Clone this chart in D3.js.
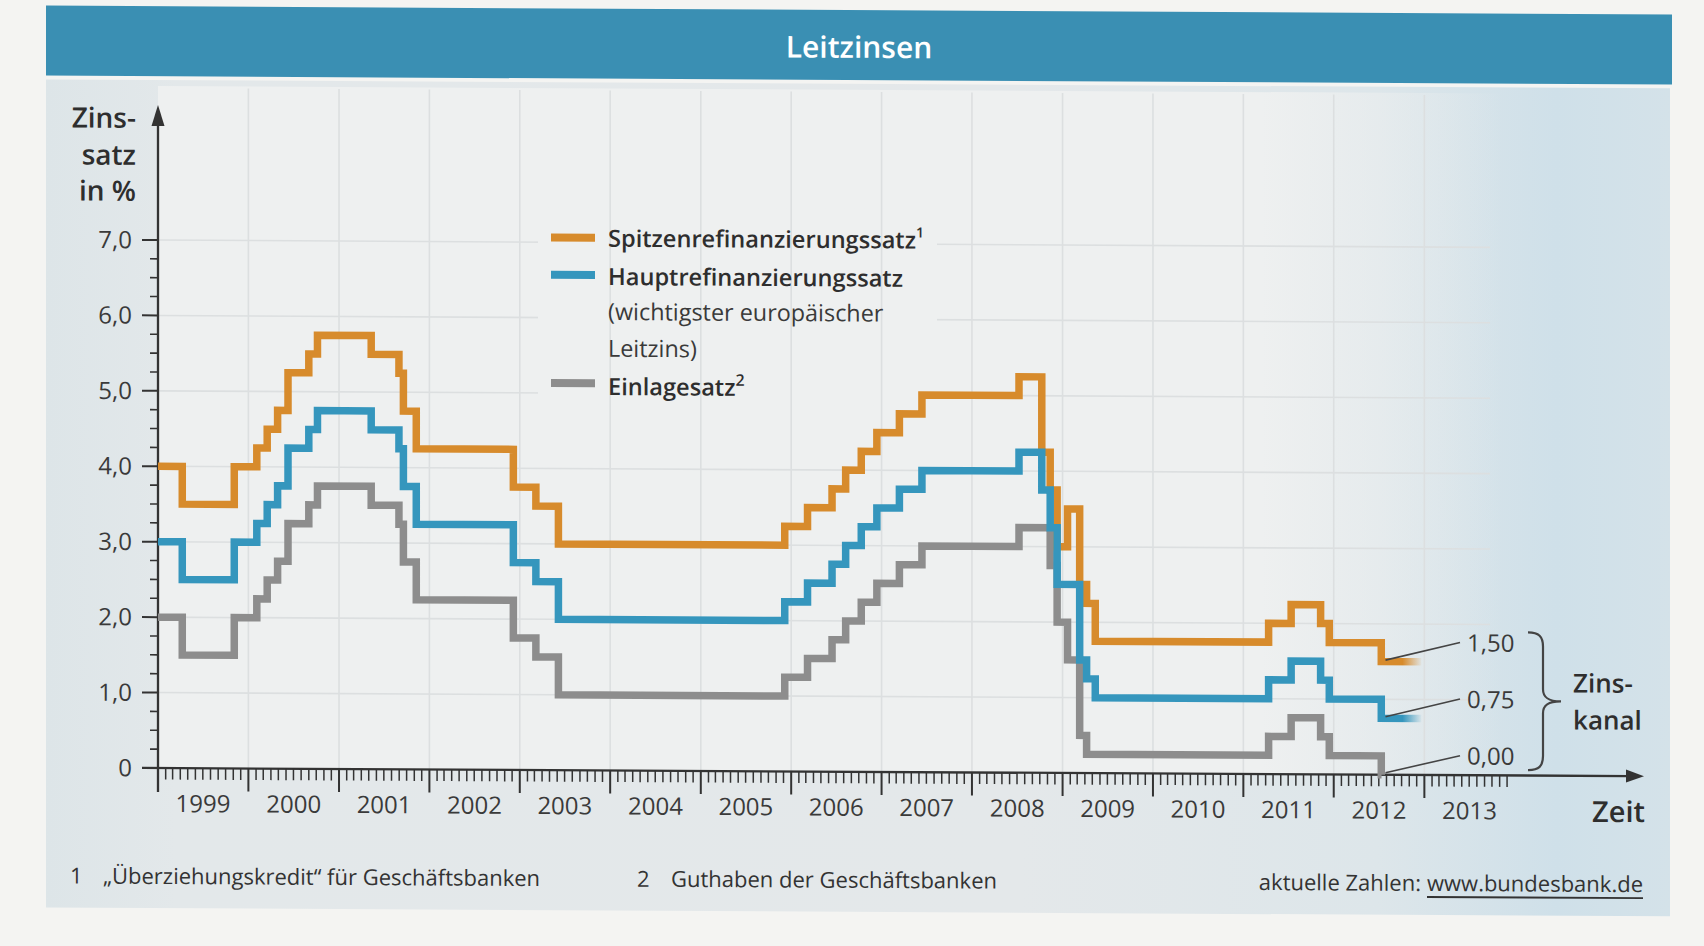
<!DOCTYPE html>
<html><head><meta charset="utf-8">
<script src="https://cdn.jsdelivr.net/npm/d3@7"></script>
<style>
html,body{margin:0;padding:0;background:#f4f4f2;}
svg{display:block;font-family:"Open Sans","Noto Sans",sans-serif;}
</style></head><body>
<svg id="chart" width="1704" height="946"></svg>
<script>
// ---------- data ----------
const years = [1999,2000,2001,2002,2003,2004,2005,2006,2007,2008,2009,2010,2011,2012,2013];
const yTickValues = [0,1,2,3,4,5,6,7];
const yTickLabels = ["0","1,0","2,0","3,0","4,0","5,0","6,0","7,0"];

const spitzen = [
 ["1999-01-01",4.00],["1999-04-09",3.50],["1999-11-05",4.00],["2000-02-04",4.25],
 ["2000-03-17",4.50],["2000-04-28",4.75],["2000-06-09",5.25],["2000-09-01",5.50],
 ["2000-10-06",5.75],["2001-05-11",5.50],["2001-08-31",5.25],["2001-09-18",4.75],
 ["2001-11-09",4.25],["2002-12-06",3.75],["2003-03-07",3.50],["2003-06-06",3.00],
 ["2005-12-06",3.25],["2006-03-08",3.50],["2006-06-15",3.75],["2006-08-09",4.00],
 ["2006-10-11",4.25],["2006-12-13",4.50],["2007-03-14",4.75],["2007-06-13",5.00],
 ["2008-07-09",5.25],["2008-10-09",4.25],["2008-11-12",3.75],["2008-12-10",3.00],
 ["2009-01-21",3.50],["2009-03-11",2.50],["2009-04-08",2.25],["2009-05-13",1.75],
 ["2011-04-13",2.00],["2011-07-13",2.25],["2011-11-09",2.00],["2011-12-14",1.75],
 ["2012-07-11",1.50],["2012-12-20",1.50]
];
const haupt = [
 ["1999-01-01",3.00],["1999-04-09",2.50],["1999-11-05",3.00],["2000-02-04",3.25],
 ["2000-03-17",3.50],["2000-04-28",3.75],["2000-06-09",4.25],["2000-09-01",4.50],
 ["2000-10-06",4.75],["2001-05-11",4.50],["2001-08-31",4.25],["2001-09-18",3.75],
 ["2001-11-09",3.25],["2002-12-06",2.75],["2003-03-07",2.50],["2003-06-06",2.00],
 ["2005-12-06",2.25],["2006-03-08",2.50],["2006-06-15",2.75],["2006-08-09",3.00],
 ["2006-10-11",3.25],["2006-12-13",3.50],["2007-03-14",3.75],["2007-06-13",4.00],
 ["2008-07-09",4.25],["2008-10-09",3.75],["2008-11-12",3.25],["2008-12-10",2.50],
 ["2009-03-11",1.50],["2009-04-08",1.25],["2009-05-13",1.00],
 ["2011-04-13",1.25],["2011-07-13",1.50],["2011-11-09",1.25],["2011-12-14",1.00],
 ["2012-07-11",0.75],["2012-12-20",0.75]
];
const einlage = [
 ["1999-01-01",2.00],["1999-04-09",1.50],["1999-11-05",2.00],["2000-02-04",2.25],
 ["2000-03-17",2.50],["2000-04-28",2.75],["2000-06-09",3.25],["2000-09-01",3.50],
 ["2000-10-06",3.75],["2001-05-11",3.50],["2001-08-31",3.25],["2001-09-18",2.75],
 ["2001-11-09",2.25],["2002-12-06",1.75],["2003-03-07",1.50],["2003-06-06",1.00],
 ["2005-12-06",1.25],["2006-03-08",1.50],["2006-06-15",1.75],["2006-08-09",2.00],
 ["2006-10-11",2.25],["2006-12-13",2.50],["2007-03-14",2.75],["2007-06-13",3.00],
 ["2008-07-09",3.25],["2008-11-12",2.75],["2008-12-10",2.00],["2009-01-21",1.50],
 ["2009-03-11",0.50],["2009-04-08",0.25],
 ["2011-04-13",0.50],["2011-07-13",0.75],["2011-11-09",0.50],["2011-12-14",0.25],
 ["2012-07-11",0.00],["2012-07-12",0.00]
];
const endValues = [1.50, 0.75, 0.00];
const endLabels = ["1,50", "0,75", "0,00"];
const legendLabels = ["Spitzenrefinanzierungssatz", "Hauptrefinanzierungssatz", "Einlagesatz"];

// ---------- setup ----------
const parse = d3.timeParse("%Y-%m-%d");
const svg = d3.select("#chart");
const W = 1704, H = 946;
const colOrange = "#d78b2c", colBlue = "#3596bd", colGray = "#8d8d8d";
const ink = "#2e2e2e";

const x = d3.scaleTime().domain([parse("1999-01-01"), parse("2014-01-01")]).range([158, 158 + 15 * 90.45]);
const y = d3.scaleLinear().domain([0, 7]).range([768, 240]);

const defs = svg.append("defs");
const pg = defs.append("linearGradient").attr("id", "panelGrad").attr("x1", 0).attr("x2", 1).attr("y1", 0).attr("y2", 0);
[[0, "#dde5e8"], [0.08, "#e3e8ea"], [0.6, "#e4e8ea"], [0.82, "#dde6ea"], [0.93, "#cfe0e9"], [1, "#d4e2e9"]]
  .forEach(([o, c]) => pg.append("stop").attr("offset", o).attr("stop-color", c));
const plg = defs.append("linearGradient").attr("id", "plotGrad").attr("x1", 0).attr("x2", 1).attr("y1", 0).attr("y2", 0);
[[0, "#eef0f0", 1], [0.82, "#eef0f0", 1], [1, "#eef0f0", 0]]
  .forEach(([o, c, op]) => plg.append("stop").attr("offset", o).attr("stop-color", c).attr("stop-opacity", op));

function fadeGrad(id, color) {
  const g = defs.append("linearGradient").attr("id", id).attr("gradientUnits", "userSpaceOnUse")
    .attr("x1", x(parse("2012-10-05"))).attr("x2", x(parse("2012-12-20"))).attr("y1", 0).attr("y2", 0);
  g.append("stop").attr("offset", 0).attr("stop-color", color).attr("stop-opacity", 1);
  g.append("stop").attr("offset", 1).attr("stop-color", color).attr("stop-opacity", 0.05);
}
fadeGrad("fadeOrange", colOrange);
fadeGrad("fadeBlue", colBlue);

svg.append("rect").attr("width", W).attr("height", H).attr("fill", "#f4f4f2");

// slight scan skew of the original page
const root = svg.append("g").attr("transform", "matrix(1,0.0055,0,1,0,-0.869)");

// panel + title bar
root.append("rect").attr("x", 46).attr("y", 80).attr("width", 1624).attr("height", 828).attr("fill", "url(#panelGrad)");
root.append("rect").attr("x", 46).attr("y", 6.2).attr("width", 1626).attr("height", 70).attr("fill", "#3a8fb3");
root.append("text").attr("x", 859).attr("y", 54).attr("text-anchor", "middle")
  .attr("fill", "#ffffff").attr("font-size", 30).attr("font-weight", 600).text("Leitzinsen");

// plot area
root.append("rect").attr("x", 158).attr("y", 86).attr("width", 1345).attr("height", 682).attr("fill", "url(#plotGrad)");

// horizontal grid
root.append("g").selectAll("line").data(yTickValues.filter(v => v > 0)).join("line")
  .attr("x1", 158).attr("x2", 1490).attr("y1", d => y(d)).attr("y2", d => y(d))
  .attr("stroke", "#dcdfe0").attr("stroke-width", 1.6);

// legend box (covers horizontal grid)
root.append("rect").attr("x", 538).attr("y", 205).attr("width", 399).attr("height", 197).attr("fill", "#eef0f0");

// vertical grid
root.append("g").selectAll("line").data(years.slice(1)).join("line")
  .attr("x1", d => x(new Date(d, 0, 1))).attr("x2", d => x(new Date(d, 0, 1)))
  .attr("y1", 88).attr("y2", 768)
  .attr("stroke", "#dcdfe0").attr("stroke-width", 1.6);

// ---------- axes ----------
const axisG = root.append("g").attr("stroke", "#333").attr("fill", "none");
// y axis
axisG.append("line").attr("x1", 158).attr("x2", 158).attr("y1", 792).attr("y2", 122).attr("stroke-width", 2.3);
axisG.append("path").attr("d", "M158,105 L151.5,126 L164.5,126 Z").attr("fill", "#333").attr("stroke", "none");
// y ticks
axisG.selectAll("line.ymaj").data(yTickValues).join("line").attr("class", "ymaj")
  .attr("x1", 142).attr("x2", 158).attr("y1", d => y(d)).attr("y2", d => y(d)).attr("stroke-width", 2);
const minorY = d3.range(0.25, 7, 0.25).filter(v => Math.abs(v - Math.round(v)) > 0.01);
axisG.selectAll("line.ymin").data(minorY).join("line").attr("class", "ymin")
  .attr("x1", 150).attr("x2", 158).attr("y1", d => y(d)).attr("y2", d => y(d)).attr("stroke-width", 1.6);
// x axis
axisG.append("line").attr("x1", 142).attr("x2", 1630).attr("y1", 768).attr("y2", 768).attr("stroke-width", 2.3);
axisG.append("path").attr("d", "M1644,768 L1626,761.5 L1626,774.5 Z").attr("fill", "#333").attr("stroke", "none");
axisG.selectAll("line.xmaj").data(years).join("line").attr("class", "xmaj")
  .attr("x1", d => x(new Date(d, 0, 1))).attr("x2", d => x(new Date(d, 0, 1)))
  .attr("y1", 768).attr("y2", 791).attr("stroke-width", 2);
const months = [];
years.forEach(yr => { for (let m = 1; m < 12; m++) months.push(new Date(yr, m, 1)); });
axisG.selectAll("line.xmin").data(months).join("line").attr("class", "xmin")
  .attr("x1", d => x(d)).attr("x2", d => x(d)).attr("y1", 768).attr("y2", 779.5).attr("stroke-width", 1.5);

// tick labels
root.append("g").selectAll("text").data(yTickValues).join("text")
  .attr("x", 132).attr("y", d => y(d)).attr("dy", "0.35em").attr("text-anchor", "end")
  .attr("font-size", 24).attr("fill", "#3a3a3a").text((d, i) => yTickLabels[i]);
root.append("g").selectAll("text").data(years).join("text")
  .attr("x", d => x(new Date(d, 6, 2))).attr("y", 812).attr("text-anchor", "middle")
  .attr("font-size", 24).attr("fill", "#3a3a3a").text(d => d);

// axis titles
const yl = root.append("text").attr("text-anchor", "end").attr("font-size", 28).attr("font-weight", 600).attr("fill", ink);
[["Zins-", 128], ["satz", 165], ["in %", 201]].forEach(([t, yy]) => yl.append("tspan").attr("x", 136).attr("y", yy).text(t));
root.append("text").attr("x", 1645).attr("y", 814).attr("text-anchor", "end")
  .attr("font-size", 29).attr("font-weight", 600).attr("fill", ink).text("Zeit");

// ---------- series ----------
const line = d3.line().curve(d3.curveStepAfter).x(d => x(parse(d[0]))).y(d => y(d[1]));
const lines = root.append("g").attr("fill", "none").attr("stroke-width", 7.5).attr("stroke-linejoin", "miter").attr("stroke-linecap", "butt");
lines.append("path").attr("d", line(einlage)).attr("stroke", colGray);
lines.append("path").attr("d", line(spitzen)).attr("stroke", "url(#fadeOrange)");
lines.append("path").attr("d", line(haupt)).attr("stroke", "url(#fadeBlue)");

// ---------- end annotations (Zinskanal) ----------
const ann = root.append("g");
endValues.forEach((v, i) => {
  const sx = x(parse("2012-07-28")), sy = y(v) - (i === 2 ? 2 : 1.5);
  ann.append("line").attr("x1", sx).attr("y1", sy).attr("x2", 1460).attr("y2", y(v) - 19.5)
    .attr("stroke", "#444").attr("stroke-width", 1.6);
  ann.append("text").attr("x", 1467).attr("y", y(v) - 19).attr("dy", "0.35em")
    .attr("font-size", 24).attr("fill", "#3a3a3a").text(endLabels[i]);
});
const bTop = y(endValues[0]) - 30, bBot = y(endValues[2]) - 5.5, bMid = (bTop + bBot) / 2;
ann.append("path")
  .attr("d", `M1528,${bTop} C1539,${bTop} 1543,${bTop + 4} 1543,${bTop + 14} L1543,${bMid - 12} C1543,${bMid - 4} 1548,${bMid} 1561,${bMid} C1548,${bMid} 1543,${bMid + 4} 1543,${bMid + 12} L1543,${bBot - 14} C1543,${bBot - 4} 1539,${bBot} 1528,${bBot}`)
  .attr("fill", "none").attr("stroke", "#444").attr("stroke-width", 2.2);
const zk = ann.append("text").attr("font-size", 26).attr("font-weight", 600).attr("fill", ink);
zk.append("tspan").attr("x", 1573).attr("y", bMid - 9).text("Zins-");
zk.append("tspan").attr("x", 1573).attr("y", bMid + 28).text("kanal");

// ---------- legend ----------
const leg = root.append("g");
const legColors = [colOrange, colBlue, colGray];
const legY = [235.3, 272.6, 380.9];
legY.forEach((yy, i) => {
  leg.append("line").attr("x1", 551).attr("x2", 595).attr("y1", yy).attr("y2", yy)
    .attr("stroke", legColors[i]).attr("stroke-width", 8);
});
const t1 = leg.append("text").attr("x", 608).attr("y", 244.3).attr("font-size", 23.6).attr("font-weight", 600).attr("fill", ink);
t1.append("tspan").text(legendLabels[0]);
t1.append("tspan").attr("dy", -11).attr("font-size", 14).text("1");
leg.append("text").attr("x", 608).attr("y", 282.6).attr("font-size", 23.6).attr("font-weight", 600).attr("fill", ink).text(legendLabels[1]);
leg.append("text").attr("x", 608).attr("y", 317.6).attr("font-size", 23.4).attr("fill", "#3a3a3a").text("(wichtigster europäischer");
leg.append("text").attr("x", 608).attr("y", 354.3).attr("font-size", 23.4).attr("fill", "#3a3a3a").text("Leitzins)");
const t3 = leg.append("text").attr("x", 608).attr("y", 392.6).attr("font-size", 23.6).attr("font-weight", 600).attr("fill", ink);
t3.append("tspan").text(legendLabels[2]);
t3.append("tspan").attr("dy", -10).attr("font-size", 16).text("2");

// ---------- footer ----------
const foot = root.append("g").attr("font-size", 22).attr("fill", "#333");
foot.append("text").attr("x", 70).attr("y", 884).text("1");
foot.append("text").attr("x", 103).attr("y", 884).text("\u201EÜberziehungskredit\u201C für Geschäftsbanken");
foot.append("text").attr("x", 637).attr("y", 884).text("2");
foot.append("text").attr("x", 671).attr("y", 884).text("Guthaben der Geschäftsbanken");
const www = foot.append("text").attr("x", 1643).attr("y", 884).attr("text-anchor", "end").text("www.bundesbank.de");
const ww = www.node().getComputedTextLength();
foot.append("text").attr("x", 1643 - ww - 6).attr("y", 884).attr("text-anchor", "end").text("aktuelle Zahlen:");
foot.append("line").attr("x1", 1643 - ww).attr("x2", 1643).attr("y1", 890).attr("y2", 890)
  .attr("stroke", "#333").attr("stroke-width", 1.8);
</script>
</body></html>
